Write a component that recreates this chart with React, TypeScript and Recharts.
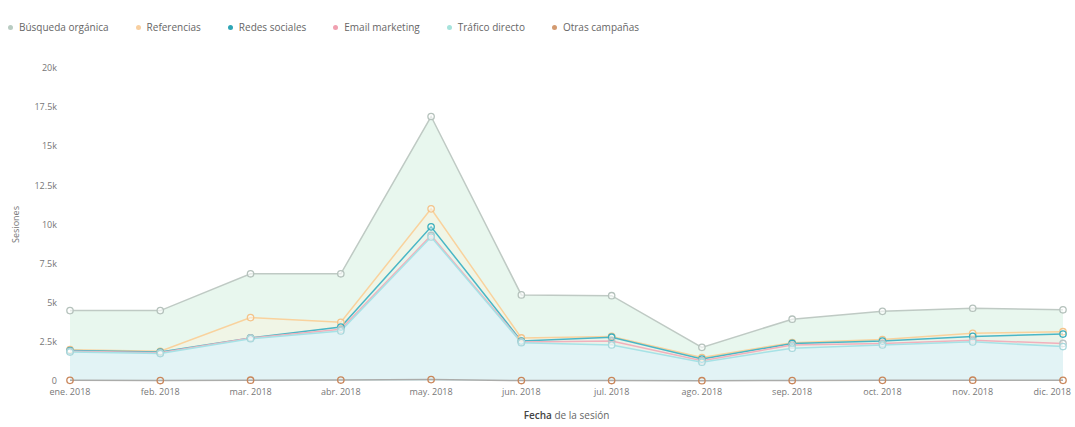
import React from "react";
import { Area, AreaChart, XAxis, YAxis } from "recharts";

const months = [
  "ene. 2018", "feb. 2018", "mar. 2018", "abr. 2018", "may. 2018", "jun. 2018",
  "jul. 2018", "ago. 2018", "sep. 2018", "oct. 2018", "nov. 2018", "dic. 2018"
];

const busquedaOrganica = [4500, 4500, 6850, 6850, 16900, 5500, 5450, 2150, 3950, 4450, 4650, 4550];
const referencias = [2000, 1900, 4050, 3750, 11000, 2750, 2850, 1500, 2450, 2650, 3050, 3150];
const redesSociales = [1950, 1850, 2750, 3450, 9850, 2550, 2800, 1400, 2400, 2550, 2850, 3000];
const emailMarketing = [1900, 1800, 2750, 3300, 9300, 2500, 2550, 1300, 2300, 2400, 2600, 2400];
const traficoDirecto = [1850, 1750, 2700, 3200, 9200, 2450, 2300, 1200, 2100, 2300, 2500, 2200];
const otrasCampanas = [40, 30, 50, 60, 90, 30, 30, 20, 30, 40, 50, 40];

const yTicks = [0, 2500, 5000, 7500, 10000, 12500, 15000, 17500, 20000];

const series = [
  { key: "busqueda", name: "Búsqueda orgánica", stroke: "#bfcac4", fill: "#d9f1e3", fillOpacity: 0.6, dot: "#b5c2bc", legend: "#b9ccc2" },
  { key: "referencias", name: "Referencias", stroke: "#f9d29d", fill: "#fdf3d9", fillOpacity: 0.4, dot: "#f4c38a", legend: "#f8cfa0" },
  { key: "redes", name: "Redes sociales", stroke: "#4ab6c6", fill: "#d4f2f8", fillOpacity: 0.25, dot: "#3aaebd", legend: "#2ea5b5" },
  { key: "email", name: "Email marketing", stroke: "#f2b0bc", fill: "#f7dde3", fillOpacity: 0.05, dot: "#b9c4c6", legend: "#f0a0b0" },
  { key: "trafico", name: "Tráfico directo", stroke: "#a6e2e6", fill: "#dcf4fc", fillOpacity: 0.6, dot: "#a8d8dc", legend: "#a6e3dc" },
  { key: "otras", name: "Otras campañas", stroke: "#abacaa", fill: "#ffffff", fillOpacity: 0, dot: "#c9865a", legend: "#d39a70" }
];

const data = months.map((m, i) => ({
  month: m,
  busqueda: busquedaOrganica[i],
  referencias: referencias[i],
  redes: redesSociales[i],
  email: emailMarketing[i],
  trafico: traficoDirecto[i],
  otras: otrasCampanas[i]
}));

const font = "'Open Sans', 'Noto Sans', sans-serif";

function fmtK(v: number) {
  if (v === 0) return "0";
  return `${v / 1000}k`;
}

function MonthTick(props: any) {
  const { x, y, payload, index } = props;
  const last = index === months.length - 1;
  return (
    <text
      x={last ? x + 8 : x}
      y={y}
      dy="0.71em"
      textAnchor={last ? "end" : "middle"}
      fill="#777"
      fontSize={9}
      fontFamily={font}
    >
      {payload.value}
    </text>
  );
}

function XTitle(props: any) {
  const vb = props.viewBox;
  return (
    <text
      x={vb.x + vb.width / 2}
      y={vb.y + vb.height - 4}
      textAnchor="middle"
      fontSize={10}
      fontFamily={font}
    >
      <tspan fill="#444" fontWeight={600}>Fecha</tspan>
      <tspan fill="#666"> de la sesión</tspan>
    </text>
  );
}

export default function App() {
  return (
    <div style={{ position: "absolute", left: 0, top: 0, width: 1075, height: 427, background: "#fff", fontFamily: font }}>
      <div style={{ position: "absolute", left: 8, top: 20, display: "flex", gap: 27, fontSize: 10, color: "#666" }}>
        {series.map((s) => (
          <div key={s.key} style={{ display: "flex", alignItems: "center", gap: 6 }}>
            <span style={{ width: 5, height: 5, borderRadius: 3, background: s.legend, display: "inline-block" }} />
            <span>{s.name}</span>
          </div>
        ))}
      </div>
      <AreaChart
        width={1075}
        height={427}
        data={data}
        margin={{ top: 68, right: 12, left: 0, bottom: 4 }}
      >
        <XAxis
          dataKey="month"
          axisLine={false}
          tickLine={false}
          interval={0}
          height={42}
          tickMargin={2}
          tick={<MonthTick />}
          label={<XTitle />}
        />
        <YAxis
          width={70}
          domain={[0, 20000]}
          ticks={yTicks}
          tickFormatter={fmtK}
          axisLine={false}
          tickLine={false}
          tickMargin={7}
          tick={{ fill: "#777", fontSize: 9, fontFamily: font }}
          label={{
            value: "Sesiones",
            angle: -90,
            position: "insideLeft",
            offset: 16,
            style: { textAnchor: "middle", fill: "#777", fontSize: 9, fontFamily: font }
          }}
        />
        {series.map((s) => (
          <Area
            key={s.key}
            type="linear"
            dataKey={s.key}
            name={s.name}
            stroke={s.stroke}
            strokeWidth={1.5}
            fill={s.fill}
            fillOpacity={s.fillOpacity}
            dot={{ r: 3.2, fill: "#fff", stroke: s.dot, strokeWidth: 1.3 }}
            activeDot={false}
            isAnimationActive={false}
          />
        ))}
      </AreaChart>
    </div>
  );
}
